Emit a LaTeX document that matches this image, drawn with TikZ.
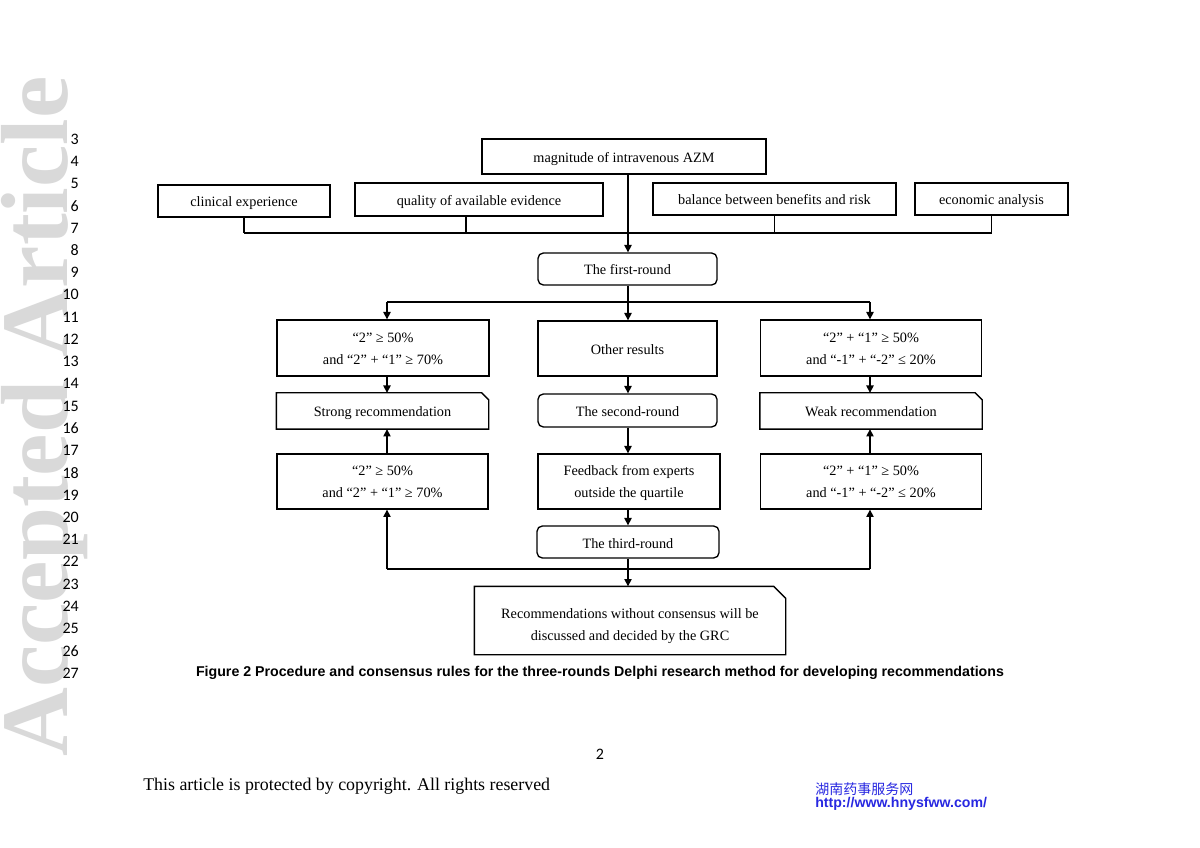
\documentclass[tikz,border=0pt]{standalone}
\usepackage{fontspec}
\setmainfont{Liberation Serif}
\newfontfamily\arialf{Liberation Sans}
\newfontfamily\calibf{Carlito}
\newfontfamily\cjkf{Noto Sans CJK SC}
\usetikzlibrary{arrows.meta}
\definecolor{urlblue}{RGB}{40,40,225}
\definecolor{wmgray}{RGB}{217,217,217}
\begin{document}
\begin{tikzpicture}[x=0.75pt,y=-0.75pt,
  sz/.style 2 args={minimum width=#1*0.75pt, minimum height=#2*0.75pt},
  bx/.style={draw, line width=1pt, inner sep=0pt, align=center, font=\fontsize{10.7}{16.5}\selectfont},
  one/.style={text height=9pt, text depth=0pt},
  two/.style={text height=#1, text depth=0pt},
  cbx/.style={bx, draw=none},
  rc/.style={rounded corners=4pt},
  conn/.style={line width=1pt},
  arr/.style={conn, -{Triangle[length=5.5pt,width=5.5pt]}}]
\fill[white] (0,0) rectangle (1200,848);
\useasboundingbox (0,0) rectangle (1200,848);

% watermark
\node[rotate=90, anchor=base west, inner sep=0pt, text=wmgray, font=\bfseries\fontsize{71.5}{71.5}\selectfont] (wm) at (67,757) {Accepted Article};

% line numbers
\foreach \n in {3,...,27}
  \node[anchor=east, inner sep=0pt, font=\calibf\fontsize{12}{12}\selectfont] (ln\n) at (79,{139+(\n-3)*22.25}) {\n};

% boxes
\node[bx, one, sz={284}{35}] (mag) at (624,156.5) {magnitude of intravenous AZM};
\node[bx, one, sz={172}{32}] (clin) at (244,201) {clinical experience};
\node[bx, one, sz={248}{33}] (qual) at (479,199.5) {quality of available evidence};
\node[bx, one, sz={243}{32}] (bal) at (774.5,199) {balance between benefits and risk};
\node[bx, one, sz={153}{32}] (eco) at (991.5,199) {economic analysis};
\node[bx, one, rc, sz={179}{32}] (r1) at (627.5,269) {The first-round};

\node[bx, two=24.6pt, sz={212}{56}] (c1) at (383,348) {“2” ≥ 50\%\\and “2” + “1” ≥ 70\%};
\node[bx, one, sz={179}{55}] (oth) at (627.5,348.5) {Other results};
\node[bx, two=24.6pt, sz={221}{56}] (c2) at (871,348) {“2” + “1” ≥ 50\%\\and “-1” + “-2” ≤ 20\%};

\node[cbx, one, sz={211}{35}] (strong) at (382.5,411) {Strong recommendation};
\node[bx, one, rc, sz={179}{33}] (r2) at (627.5,410.5) {The second-round};
\node[cbx, one, sz={221}{35}] (weak) at (871,411) {Weak recommendation};

\node[bx, two=24.6pt, sz={211}{55}] (c3) at (382.5,481.5) {“2” ≥ 50\%\\and “2” + “1” ≥ 70\%};
\node[bx, two=24.5pt, sz={182}{55}] (fb) at (629,481.5) {Feedback from experts\\outside the quartile};
\node[bx, two=24.6pt, sz={221}{55}] (c4) at (871,481.5) {“2” + “1” ≥ 50\%\\and “-1” + “-2” ≤ 20\%};

\node[bx, one, rc, sz={182}{32}] (r3) at (628,542) {The third-round};
\node[cbx, two=30.5pt, sz={310}{67}] (rec) at (630,620.5) {Recommendations without consensus will be\\discussed and decided by the GRC};

% cut-corner outlines
\foreach \b/\c in {strong/5.25pt, weak/5.25pt, rec/9pt}
  \draw[conn] (\b.south west) -- (\b.south east) -- ([yshift=-\c]\b.north east)
     -- ([xshift=-\c]\b.north east) -- (\b.north west) -- cycle;

% top bus
\coordinate (busT) at (628,233);
\coordinate (qv) at (466,233);
\draw[conn] (clin.south) -- (clin.south |- busT);
\draw[conn] (qv |- qual.south) -- (qv);
\draw[conn] (bal.south) -- (bal.south |- busT);
\draw[conn] (eco.south) -- (eco.south |- busT);
\draw[conn] (clin.south |- busT) -- (eco.south |- busT);
\draw[arr] (busT |- mag.south) -- (busT |- r1.north);

% branch after first round
\coordinate (bl) at (387,302);
\coordinate (br) at (870,302);
\draw[arr] (busT |- r1.south) -- (busT |- oth.north);
\draw[conn] (bl) -- (br);
\draw[arr] (bl) -- (bl |- c1.north);
\draw[arr] (br) -- (br |- c2.north);

% vertical arrows
\draw[arr] (bl |- c1.south) -- (bl |- strong.north);
\draw[arr] (br |- c2.south) -- (br |- weak.north);
\draw[arr] (bl |- c3.north) -- (bl |- strong.south);
\draw[arr] (br |- c4.north) -- (br |- weak.south);
\draw[arr] (busT |- oth.south) -- (busT |- r2.north);
\draw[arr] (busT |- r2.south) -- (busT |- fb.north);
\draw[arr] (busT |- fb.south) -- (busT |- r3.north);

% bottom bus
\coordinate (bbl) at (387,569);
\coordinate (bbr) at (870,569);
\coordinate (bbc) at (628,569);
\draw[conn] (bbc |- r3.south) -- (bbc);
\draw[conn] (bbl) -- (bbr);
\draw[arr] (bbl) -- (bbl |- c3.south);
\draw[arr] (bbr) -- (bbr |- c4.south);
\draw[arr] (bbc) -- (bbc |- rec.north);

% caption and page texts
\node[inner sep=0pt, font=\arialf\bfseries\fontsize{10.65}{12}\selectfont] (cap) at (600,673) {Figure 2 Procedure and consensus rules for the three-rounds Delphi research method for developing recommendations};
\node[inner sep=0pt, font=\calibf\fontsize{12}{12}\selectfont] (pg) at (600,754) {2};
\node[anchor=west, inner sep=0pt, font=\fontsize{13.4}{15}\selectfont] (foot) at (143,786) {This article is protected by copyright. All rights reserved};
\node[anchor=west, inner sep=0pt, text=urlblue, font=\cjkf\fontsize{10.5}{12}\selectfont] (cn) at (815,789) {湖南药事服务网};
\node[anchor=west, inner sep=0pt, text=urlblue, font=\arialf\bfseries\fontsize{10.6}{12}\selectfont] (url) at (815,804) {http://www.hnysfww.com/};
\end{tikzpicture}
\end{document}
